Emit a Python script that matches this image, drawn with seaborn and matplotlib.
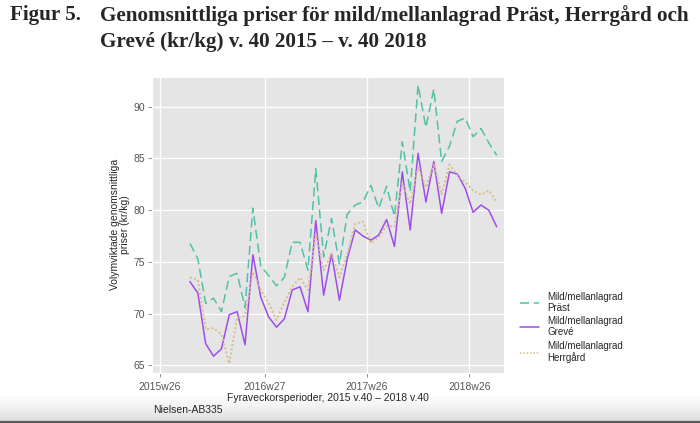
import numpy as np
import pandas as pd
import matplotlib.pyplot as plt
import seaborn as sns

# fyraveckorsperioder, 2015 v.40 - 2018 v.40
periods = pd.date_range("2015-10-05", periods=40, freq="28D")

prast = [76.8, 75.3, 71.0, 71.5, 70.2, 73.6, 73.9, 70.6, 80.2, 74.6,
         73.7, 72.7, 73.5, 76.9, 76.9, 74.2, 84.0, 75.5, 79.2, 74.8,
         79.6, 80.5, 80.8, 82.4, 80.2, 82.3, 79.4, 86.6, 81.8, 92.1,
         88.0, 91.7, 84.7, 86.2, 88.6, 88.9, 87.1, 87.9, 86.5, 85.3]
greve = [73.1, 72.0, 67.1, 65.9, 66.6, 69.9, 70.2, 67.0, 75.7, 71.6,
         69.7, 68.7, 69.5, 72.3, 72.6, 70.2, 79.0, 71.8, 75.8, 71.3,
         75.3, 78.1, 77.5, 77.1, 77.6, 79.1, 76.5, 83.7, 78.1, 85.5,
         80.8, 84.7, 79.7, 83.7, 83.5, 82.1, 79.8, 80.5, 80.0, 78.4]
herrgard = [73.5, 73.3, 68.5, 68.6, 68.0, 65.2, 69.6, 69.8, 74.0, 72.3,
            71.0, 69.4, 71.1, 72.6, 73.5, 72.3, 77.7, 74.2, 75.8, 73.5,
            75.8, 78.7, 78.9, 76.8, 77.4, 78.5, 78.4, 82.6, 80.6, 84.2,
            82.2, 84.5, 81.5, 84.4, 83.4, 82.7, 81.9, 81.5, 81.9, 80.8]

series_names = ["Mild/mellanlagrad\nPräst", "Mild/mellanlagrad\nGrevé",
                "Mild/mellanlagrad\nHerrgård"]
colors = ["#52c1a7", "#9d4ded", "#d6bd8b"]

tick_dates = pd.to_datetime(["2015-06-20", "2016-06-28", "2017-06-25", "2018-06-26"])
tick_labels = ["2015w26", "2016w27", "2017w26", "2018w26"]
y_ticks = [65, 70, 75, 80, 85, 90]

df = pd.DataFrame({
    "period": np.tile(periods, 3),
    "pris": prast + greve + herrgard,
    "serie": np.repeat(series_names, len(periods)),
})

sns.set_style("darkgrid", {"axes.facecolor": "#e5e5e5", "grid.color": "white"})
plt.rcParams["font.family"] = ["Liberation Sans", "DejaVu Sans"]

fig = plt.figure(figsize=(7, 4.23), dpi=100)

# sidkant längst ned (under allt annat)
band = fig.add_axes([0, 0, 1, 28 / 423], zorder=-5)
grad = np.linspace(0, 1, 60).reshape(-1, 1) ** 0.6
band.imshow(grad, aspect="auto",
            cmap=sns.blend_palette(["#d2d2d2", "#ffffff"], as_cmap=True),
            extent=[0, 1, 0, 1], origin="lower")
band.axhline(0.03, color="#5a5a5a", linewidth=1.6)
band.set_axis_off()

ax = fig.add_axes([0.2176, 0.1189, 0.5024, 0.6998])

sns.lineplot(data=df, x="period", y="pris", hue="serie", style="serie",
             palette=dict(zip(series_names, colors)),
             dashes={series_names[0]: (6, 3), series_names[1]: "",
                     series_names[2]: (1, 1.2)},
             linewidth=1.1, ax=ax)
ax.lines[2].set_linewidth(1.4)

ax.set_xlim(pd.Timestamp("2015-05-24"), pd.Timestamp("2018-10-27"))
ax.set_ylim(64.3, 92.9)
ax.set_xticks(tick_dates)
ax.set_xticklabels(tick_labels)
ax.set_yticks(y_ticks)
ax.grid(True, color="white", linewidth=0.9)
ax.tick_params(bottom=True, left=True, length=3, width=0.6, color="#7f7f7f",
               labelcolor="#555555", labelsize=7.5, pad=2)
ax.tick_params(axis="x", pad=3.5)
ax.set_xlabel("Fyraveckorsperioder, 2015 v.40 – 2018 v.40", fontsize=7.5, labelpad=1)
ax.set_ylabel("Volymviktade genomsnittliga\npriser (kr/kg)", fontsize=7.5,
              labelpad=3, linespacing=1.0)

sns.move_legend(ax, "center left", bbox_to_anchor=(0.731, 0.226),
                bbox_transform=fig.transFigure, frameon=False, title=None,
                fontsize=7, handlelength=1.9, handletextpad=0.9,
                labelspacing=0.35)
for t in ax.get_legend().get_texts():
    t.set_linespacing(1.15)

# rubrik
fig.text(10 / 700, 1 - 15 / 423, "Figur 5.", fontfamily="Liberation Serif",
         fontweight="bold", fontsize=15.2, va="center")
fig.text(100 / 700, 1 - 28.5 / 423,
         "Genomsnittliga priser för mild/mellanlagrad Präst, Herrgård och\n"
         "Grevé (kr/kg) v. 40 2015 – v. 40 2018",
         fontfamily="Liberation Serif", fontweight="bold", fontsize=15.2,
         va="center", linespacing=1.35)

fig.text(153 / 700, 1 - 410 / 423, "Nielsen-AB335", fontsize=7.5, va="center")

fig.savefig("out.png", dpi=100)
